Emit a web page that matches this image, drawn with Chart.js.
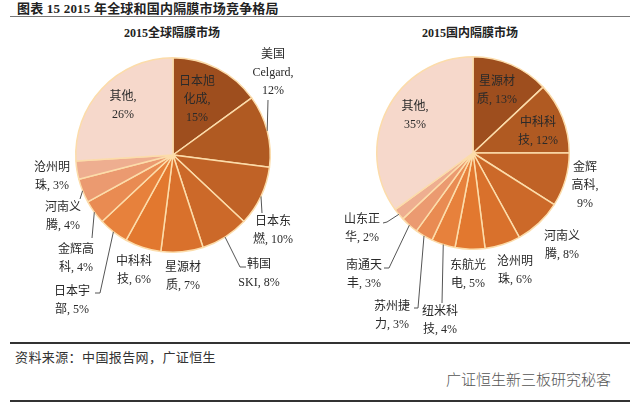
<!DOCTYPE html>
<html>
<head>
<meta charset="utf-8">
<script src="https://cdn.jsdelivr.net/npm/chart.js@4/dist/chart.umd.min.js"></script>
<style>
  html, body { margin: 0; padding: 0; background: #ffffff; }
  #wrap { position: relative; width: 640px; height: 404px; overflow: hidden; background: #fff; }
  .txt { position: absolute; white-space: nowrap; font-family: 'Liberation Serif', 'Noto Sans CJK SC', serif; color: #222; }
  #title { left: 17px; top: -2px; font-size: 13px; font-weight: bold; letter-spacing: 0.2px; }
  .sub { top: 23px; font-size: 12px; font-weight: bold; transform: translateX(-50%); }
  #sub1 { left: 172px; }
  #sub2 { left: 470px; }
  #source { left: 15px; top: 347px; font-size: 13px; letter-spacing: 0.4px; color: #333; }
  #mark { left: 446px; top: 368px; font-size: 15px; color: #555; font-family: 'Noto Sans CJK SC', sans-serif; font-weight: 300; }
  .rule { position: absolute; left: 10px; width: 620px; background: #333; }
  canvas { position: absolute; }
</style>
</head>
<body>
<div id="wrap">
  <div id="title" class="txt">图表 15 2015 年全球和国内隔膜市场竞争格局</div>
  <div class="rule" style="top:16px;height:1px;background:#777;"></div>
  <div id="sub1" class="txt sub">2015全球隔膜市场</div>
  <div id="sub2" class="txt sub">2015国内隔膜市场</div>
  <canvas id="c1" width="320" height="300" style="left:0px;top:40px;"></canvas>
  <canvas id="c2" width="320" height="300" style="left:320px;top:40px;"></canvas>
  <div class="rule" style="top:342px;height:2px;"></div>
  <div id="source" class="txt">资料来源：中国报告网，广证恒生</div>
  <div id="mark" class="txt">广证恒生新三板研究秘客</div>
  <div class="rule" style="top:400px;height:2px;"></div>
</div>
<script>
// ---------- data ----------
const globalCompanies = ['日本旭化成', '美国Celgard', '日本东燃', '韩国SKI', '星源材质', '中科科技', '日本宇部', '金辉高科', '河南义腾', '沧州明珠', '其他'];
const globalShares = [15, 12, 10, 8, 7, 6, 5, 4, 4, 3, 26];

const domesticCompanies = ['星源材质', '中科科技', '金辉高科', '河南义腾', '沧州明珠', '东航光电', '纽米科技', '苏州捷力', '南通天丰', '山东正华', '其他'];
const domesticShares = [13, 12, 9, 8, 6, 5, 4, 3, 3, 2, 35];

// ---------- styling ----------
const sliceColors = ['#9e4e1e', '#b05a22', '#c06226', '#cc6929', '#d9712c', '#e2782f', '#e7813c', '#e98b52', '#eb9a70', '#eeae90', '#f6d8cb'];

// label layout: split = break indices in "name, v%", pos = [dx, dy of first line] from pie centre,
// leader = polyline points (relative to pie centre) after the slice-edge start point
const globalLabelLayout = [
  { split: [3, 6], pos: [24, -73] },
  { split: [2, 10], pos: [100, -100], leader: [[95, -55]] },
  { split: [3], pos: [100, 67], leader: [[89, 58]] },
  { split: [2], pos: [86, 110], leader: [[67, 112], [73, 112]] },
  { split: [3], pos: [10, 113] },
  { split: [3], pos: [-39, 107] },
  { split: [3], pos: [-101, 137], leader: [[-73, 138], [-78, 138]] },
  { split: [3], pos: [-97, 95], leader: [[-81, 83]] },
  { split: [3], pos: [-110, 53], leader: [[-93, 44]] },
  { split: [3], pos: [-121, 13] },
  { split: [3], pos: [-50, -58] }
];
const domesticLabelLayout = [
  { split: [3], pos: [24, -71] },
  { split: [3], pos: [65, -30] },
  { split: [2, 5], pos: [112, 15] },
  { split: [3], pos: [89, 84] },
  { split: [3], pos: [42, 109] },
  { split: [3], pos: [-5, 113] },
  { split: [3], pos: [-33, 159], leader: [[-31, 150]] },
  { split: [3], pos: [-81, 154], leader: [[-55, 155], [-59, 155]] },
  { split: [3], pos: [-109, 113], leader: [[-84, 115], [-89, 115]] },
  { split: [3], pos: [-111, 67], leader: [[-86, 69], [-90, 70]] },
  { split: [3], pos: [-58, -46] }
];

function splitLabel(text, idx) {
  const out = [];
  let prev = 0;
  idx.forEach(i => { out.push(text.slice(prev, i).trim()); prev = i; });
  out.push(text.slice(prev).trim());
  return out;
}

const sliceLabels = {
  id: 'sliceLabels',
  afterDatasetsDraw(chart, args, opts) {
    const ctx = chart.ctx;
    const meta = chart.getDatasetMeta(0);
    const labels = chart.data.labels;
    const values = chart.data.datasets[0].data;
    ctx.save();
    meta.data.forEach((arc, i) => {
      const L = opts.layout[i];
      const p = arc.getProps(['x', 'y', 'startAngle', 'endAngle', 'outerRadius'], true);
      const mid = (p.startAngle + p.endAngle) / 2;
      if (L.leader) {
        ctx.beginPath();
        ctx.moveTo(p.x + Math.cos(mid) * p.outerRadius, p.y + Math.sin(mid) * p.outerRadius);
        L.leader.forEach(q => ctx.lineTo(p.x + q[0], p.y + q[1]));
        ctx.strokeStyle = '#555';
        ctx.lineWidth = 1;
        ctx.stroke();
      }
      const lines = splitLabel(labels[i] + ', ' + values[i] + '%', L.split);
      ctx.fillStyle = '#2a2a2a';
      ctx.font = "12px 'Liberation Serif', 'Noto Sans CJK SC', serif";
      ctx.textAlign = 'center';
      ctx.textBaseline = 'middle';
      lines.forEach((t, k) => ctx.fillText(t, p.x + L.pos[0], p.y + L.pos[1] + k * 18));
    });
    ctx.restore();
  }
};

function makePie(id, labels, data, layout, padding) {
  return new Chart(document.getElementById(id), {
    type: 'pie',
    data: {
      labels: labels,
      datasets: [{
        data: data,
        backgroundColor: sliceColors,
        borderColor: '#fcdcaa',
        borderWidth: 1.5
      }]
    },
    options: {
      responsive: false,
      animation: false,
      layout: { padding: padding },
      plugins: {
        legend: { display: false },
        tooltip: { enabled: false },
        sliceLabels: { layout: layout }
      }
    },
    plugins: [sliceLabels]
  });
}

makePie('c1', globalCompanies, globalShares, globalLabelLayout, { left: 75, right: 49, top: 17, bottom: 87 });
makePie('c2', domesticCompanies, domesticShares, domesticLabelLayout, { left: 56, right: 70, top: 16, bottom: 90 });
</script>
</body>
</html>
